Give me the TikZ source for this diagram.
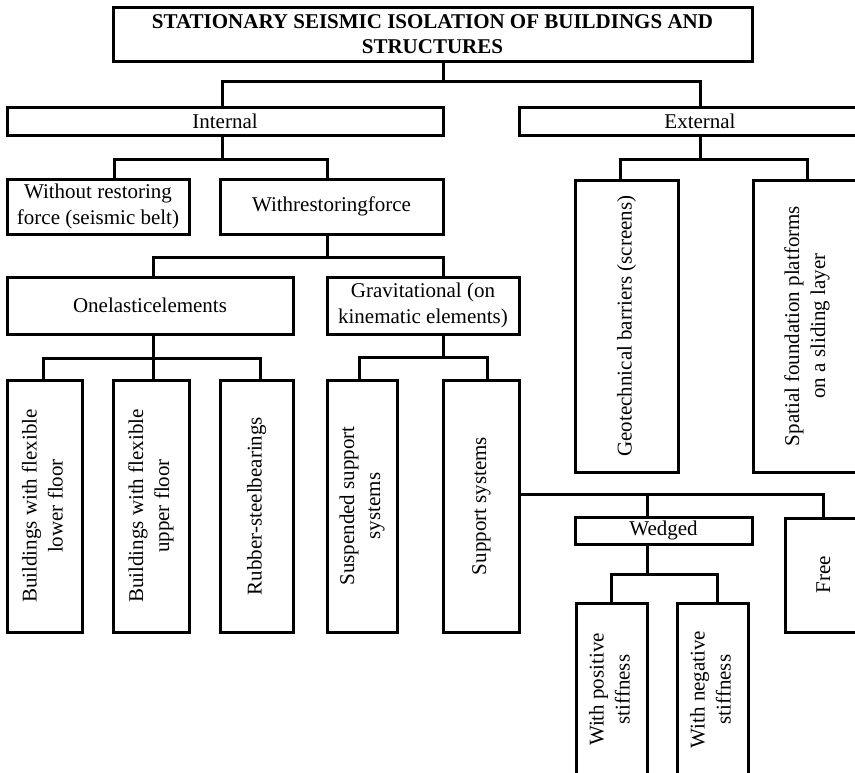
\documentclass[tikz,border=0pt]{standalone}
\usepackage{fontspec}
\setmainfont{Liberation Serif}
\usepackage{graphicx}
\newcommand{\vtext}[1]{\rotatebox{90}{\begin{tabular}{@{}c@{}}#1\end{tabular}}}
\begin{document}
\begin{tikzpicture}[x=1pt,y=-1pt,
  box/.style={draw, line width=3pt, inner sep=0pt, outer sep=0pt, align=center, font=\fontsize{21}{26}\selectfont},
  conn/.style={line width=3pt, line join=miter, line cap=butt}]
\useasboundingbox (0,0) rectangle (855,772);
\clip (0,0) rectangle (855,772);
% nodes
\node[box, minimum width=639pt, minimum height=54pt, font=\bfseries\fontsize{21}{24.5}\selectfont] (title) at (432.5,34) {STATIONARY SEISMIC ISOLATION OF BUILDINGS AND\\STRUCTURES};
\node[box, minimum width=436pt, minimum height=28pt] (internal) at (225,121) {Internal};
\node[box, minimum width=362pt, minimum height=28pt] (external) at (700,121) {External};
\node[box, minimum width=182pt, minimum height=55pt] (without) at (98,206.5) {Without restoring\\force (seismic belt)};
\node[box, minimum width=223pt, minimum height=55pt] (withr) at (331.5,206.5) {Withrestoringforce};
\node[box, minimum width=286pt, minimum height=57pt] (onel) at (150,305.5) {Onelasticelements};
\node[box, minimum width=192pt, minimum height=57pt] (grav) at (423,305.5) {Gravitational (on\\kinematic elements)};
\node[box, minimum width=75pt, minimum height=252pt] (v1) at (44.5,506) {\vtext{Buildings with flexible\\lower floor}};
\node[box, minimum width=76pt, minimum height=252pt] (v2) at (151,506) {\vtext{Buildings with flexible\\upper floor}};
\node[box, minimum width=73pt, minimum height=252pt] (v3) at (256.5,506) {\vtext{Rubber-steelbearings}};
\node[box, minimum width=70pt, minimum height=252pt] (v4) at (362,506) {\vtext{Suspended support\\systems}};
\node[box, minimum width=76pt, minimum height=252pt] (v5) at (481,506) {\vtext{Support systems}};
\node[box, minimum width=103pt, minimum height=292pt] (geo) at (626.5,326) {\vtext{Geotechnical barriers (screens)}};
\node[box, minimum width=108pt, minimum height=292pt] (spatial) at (807,326) {\vtext{Spatial foundation platforms\\on a sliding layer}};
\node[box, minimum width=177pt, minimum height=27pt] (wedged) at (663.5,530.5) {Wedged};
\node[box, minimum width=80pt, minimum height=114pt] (free) at (825,575) {\vtext{Free}};
\node[box, minimum width=71pt, minimum height=173pt] (pos) at (611.5,689.5) {\vtext{With positive\\stiffness}};
\node[box, minimum width=71pt, minimum height=173pt] (neg) at (712.5,689.5) {\vtext{With negative\\stiffness}};
% connectors
\coordinate (j0) at (443,81);
\draw[conn] (title.south -| j0) -- (j0);
\draw[conn] (internal.north -| 222,0) |- (j0) -| (external.north);
\draw[conn] (internal.south -| 222,0) -- (222,159);
\draw[conn] (without.north -| 114,0) |- (327,159) -- (withr.north -| 327,0);
\draw[conn] (external.south) -- (700,159);
\draw[conn] (geo.north -| 620,0) |- (807,159) -- (spatial.north -| 807,0);
\draw[conn] (withr.south -| 327,0) -- (327,257);
\draw[conn] (onel.north -| 153,0) |- (443,257) -- (grav.north -| 443,0);
\draw[conn] (onel.south -| 153,0) -- (153,358);
\draw[conn] (v1.north -| 43,0) |- (260,358) -- (v3.north -| 260,0);
\draw[conn] (v2.north -| 153,0) -- (153,358);
\draw[conn] (grav.south -| 443,0) -- (443,357);
\draw[conn] (v4.north -| 359,0) |- (487,357) -- (v5.north -| 487,0);
\draw[conn] (v5.east |- 0,494) -- (823,494) -- (free.north -| 823,0);
\draw[conn] (wedged.north -| 647,0) -- (647,494);
\draw[conn] (wedged.south -| 647,0) -- (647,574);
\draw[conn] (pos.north -| 611,0) |- (717,574) -- (neg.north -| 717,0);
\end{tikzpicture}
\end{document}
